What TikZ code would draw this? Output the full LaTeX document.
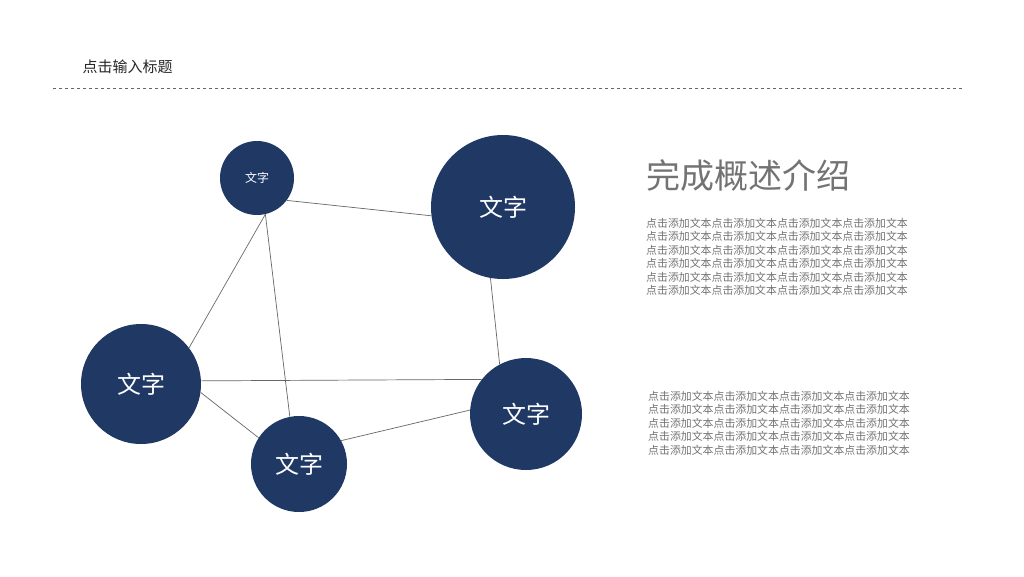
\documentclass[tikz,border=0pt]{standalone}
\usepackage{fontspec}
\newfontfamily\cjk{Noto Sans CJK SC}
\definecolor{navy}{HTML}{1F3864}
\begin{document}
\begin{tikzpicture}[x=1pt,y=-1pt,
  ball/.style={circle,fill=navy,text=white,inner sep=0pt,font=\cjk},
  link/.style={draw=black!60,line width=0.7pt},
  para/.style={anchor=north west,font=\cjk\fontsize{10.9}{13.5}\selectfont,text=black!55,inner sep=0pt,align=left}]
\useasboundingbox[fill=white] (0,0) rectangle (1024,576);
\node[anchor=west,font=\cjk\fontsize{15}{18}\selectfont,text=black!85] (title) at (79,67) {点击输入标题};
\draw[black!60,dashed,line width=0.6pt] (53,88) -- (962,88);
\path[link] (257,178) ++(-77.5:37) coordinate (hub);
\node[ball,minimum size=74pt,font=\cjk\fontsize{12}{14}\selectfont] (a) at (257,178) {文字};
\node[ball,minimum size=144pt,font=\cjk\fontsize{24}{28}\selectfont] (b) at (503,207) {文字};
\node[ball,minimum size=120pt,font=\cjk\fontsize{24}{28}\selectfont] (c) at (141,384) {文字};
\node[ball,minimum size=96pt,font=\cjk\fontsize{24}{28}\selectfont] (d) at (299,464) {文字};
\node[ball,minimum size=112pt,font=\cjk\fontsize{24}{28}\selectfont] (e) at (526,414) {文字};
\path[link] (a.-37) -- (b.187) (a.-77.5) -- (c.37) (a.-77.5) -- (d.101)
  (b.-100) -- (e.118) (c.3) -- (e.142) (c.-8) -- (d.147) (d.29) -- (e.176);
\node[anchor=west,font=\cjk\fontsize{34}{38}\selectfont,text=black!55,inner sep=0pt] (head) at (646,176) {完成概述介绍};
\node[para] (p1) at (646,218) {点击添加文本点击添加文本点击添加文本点击添加文本\\点击添加文本点击添加文本点击添加文本点击添加文本\\点击添加文本点击添加文本点击添加文本点击添加文本\\点击添加文本点击添加文本点击添加文本点击添加文本\\点击添加文本点击添加文本点击添加文本点击添加文本\\点击添加文本点击添加文本点击添加文本点击添加文本};
\node[para] (p2) at (648,391) {点击添加文本点击添加文本点击添加文本点击添加文本\\点击添加文本点击添加文本点击添加文本点击添加文本\\点击添加文本点击添加文本点击添加文本点击添加文本\\点击添加文本点击添加文本点击添加文本点击添加文本\\点击添加文本点击添加文本点击添加文本点击添加文本};
\end{tikzpicture}
\end{document}
